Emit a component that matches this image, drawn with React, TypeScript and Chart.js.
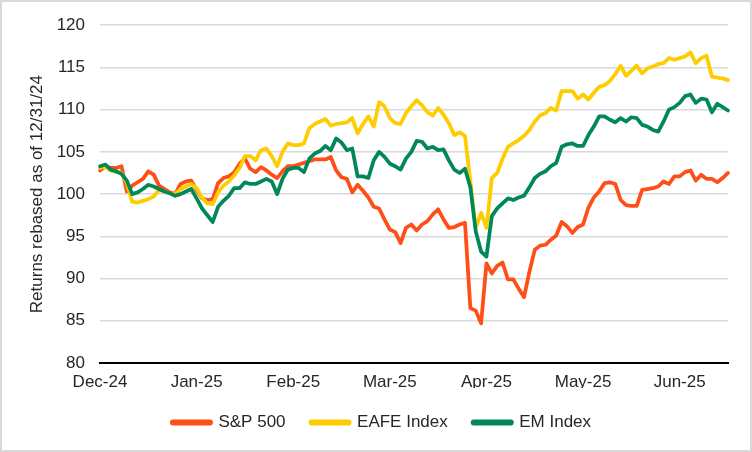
import { useEffect, useRef } from 'react';
import { Chart, registerables } from 'chart.js';

Chart.register(...registerables);

const monthTicks = ['Dec-24', 'Jan-25', 'Feb-25', 'Mar-25', 'Apr-25', 'May-25', 'Jun-25'];
const tickEvery = 18;

const sp500 = [
  102.8, 103.3, 103.1, 103.1, 103.3, 100.3, 101.0, 101.4, 101.8, 102.7,
  102.3, 101.0, 100.6, 100.2, 100.0, 101.2, 101.5, 101.6, 100.5, 99.5,
  99.3, 99.4, 101.3, 101.9, 102.1, 102.6, 103.6, 104.2, 103.0, 102.6,
  103.2, 102.8, 102.3, 101.9, 102.7, 103.3, 103.3, 103.5, 103.7, 103.9,
  104.1, 104.1, 104.1, 104.4, 102.8, 102.0, 101.8, 100.2, 101.1, 100.4,
  99.6, 98.5, 98.3, 97.0, 95.8, 95.5, 94.2, 96.0, 96.4, 95.7,
  96.4, 96.8, 97.6, 98.2, 97.0, 96.0, 96.1, 96.4, 96.6, 86.5,
  86.2, 84.7, 91.8, 90.6, 91.5, 91.9, 89.9, 89.9, 88.8, 87.8,
  90.8, 93.4, 93.9, 94.0, 94.6, 95.1, 96.7, 96.2, 95.4, 96.1,
  96.4, 98.4, 99.6, 100.3, 101.3, 101.4, 101.2, 99.3, 98.7, 98.6,
  98.6, 100.5, 100.6, 100.7, 100.9, 101.5, 101.2, 102.1, 102.1, 102.6,
  102.8, 101.6, 102.3, 101.8, 101.8, 101.4, 101.9, 102.5,
];

const eafe = [
  103.1, 103.2, 102.8, 102.6, 102.5, 101.3, 99.1, 99.0, 99.2, 99.4,
  99.7, 100.5, 100.3, 100.1, 100.0, 100.6, 100.9, 101.2, 100.7, 99.6,
  98.9, 98.8, 100.2, 101.0, 101.5, 102.2, 103.1, 104.5, 104.5, 104.0,
  105.2, 105.4, 104.5, 103.3, 105.0, 106.0, 105.8, 105.8, 106.0, 107.8,
  108.3, 108.6, 108.9, 108.1, 108.3, 108.4, 108.5, 109.0, 107.2, 108.3,
  109.2, 108.0, 110.9, 110.4, 109.0, 108.4, 108.3, 109.6, 110.4, 111.1,
  110.5, 109.7, 109.3, 110.2, 109.4, 108.4, 107.0, 107.3, 106.9, 101.5,
  96.0, 97.8, 96.0, 101.9, 102.5, 104.2, 105.6, 106.0, 106.4, 106.9,
  107.6, 108.6, 109.3, 109.6, 110.2, 109.9, 112.2, 112.2, 112.2, 111.3,
  111.8, 111.2, 112.0, 112.7, 112.9, 113.4, 114.2, 115.2, 114.0, 114.6,
  115.2, 114.3, 114.9, 115.1, 115.4, 115.5, 116.1, 115.9, 116.1, 116.3,
  116.8, 115.5, 116.1, 116.4, 113.9, 113.8, 113.7, 113.5,
];

const em = [
  103.3, 103.5, 102.9, 102.7, 102.4, 101.6, 100.0, 100.2, 100.6, 101.1,
  100.9, 100.6, 100.3, 100.1, 99.8, 100.0, 100.3, 100.6, 99.5, 98.3,
  97.5, 96.7, 98.5, 99.2, 99.8, 100.7, 100.7, 101.4, 101.2, 101.2,
  101.5, 101.8, 101.5, 100.0, 101.8, 102.9, 103.1, 103.1, 102.6, 104.2,
  104.8, 105.1, 105.7, 105.2, 106.6, 106.1, 105.2, 105.4, 102.1, 102.1,
  101.9, 104.0, 105.0, 104.4, 103.6, 103.3, 102.9, 104.2, 105.0, 106.3,
  106.2, 105.4, 105.6, 105.2, 105.3, 104.0, 102.9, 102.5, 103.0, 100.8,
  95.6, 93.2, 92.6, 97.4, 98.3, 98.9, 99.5, 99.3, 99.6, 99.8,
  100.8, 101.9, 102.4, 102.7, 103.3, 103.7, 105.6, 105.9, 106.0, 105.7,
  105.7, 107.0, 108.0, 109.2, 109.2, 108.8, 108.5, 109.0, 108.6, 109.1,
  109.0, 108.2, 108.0, 107.6, 107.4, 108.6, 110.0, 110.3, 110.8, 111.6,
  111.8, 110.8, 111.3, 111.2, 109.7, 110.7, 110.3, 109.9,
];

const seriesNames = ['S&P 500', 'EAFE Index', 'EM Index'];
const seriesColors = ['#FF4E17', '#FFCC00', '#00875A'];
const yMin = 80;
const yMax = 120;
const yStep = 5;
const yTitle = 'Returns rebased as of 12/31/24';

export default function App() {
  const ref = useRef<HTMLCanvasElement>(null);

  useEffect(() => {
    if (!ref.current) return;
    const labels = sp500.map((_, i) =>
      i % tickEvery === 0 ? monthTicks[i / tickEvery] ?? '' : ''
    );
    const font = { family: "'Liberation Sans', Arial, sans-serif", size: 17 };
    const textColor = '#262626';
    const values = [sp500, eafe, em];
    const chart = new Chart(ref.current, {
      type: 'line',
      data: {
        labels,
        datasets: values.map((d, i) => ({
          label: seriesNames[i],
          data: d,
          borderColor: seriesColors[i],
          backgroundColor: seriesColors[i],
          order: 2 - i,
        })),
      },
      options: {
        animation: false,
        responsive: true,
        maintainAspectRatio: false,
        layout: { padding: { left: 36, right: 24, top: 24, bottom: 11 } },
        elements: {
          line: { borderWidth: 3.75, tension: 0, borderJoinStyle: 'round', borderCapStyle: 'round' },
          point: { radius: 0, hoverRadius: 0 },
        },
        scales: {
          x: {
            type: 'category',
            grid: { display: false, drawTicks: false },
            border: { display: true, color: '#000000', width: 2 },
            ticks: {
              autoSkip: false,
              maxRotation: 0,
              minRotation: 0,
              padding: 9,
              color: textColor,
              font,
            },
            afterFit: (s: any) => {
              s.height = 25;
            },
          },
          y: {
            min: yMin,
            max: yMax,
            ticks: { stepSize: yStep, padding: 15, color: textColor, font },
            grid: {
              color: (ctx: any) => (ctx.tick && ctx.tick.value === yMin ? 'rgba(0,0,0,0)' : '#d9d9d9'),
              lineWidth: 1.5,
              drawTicks: false,
            },
            border: { display: false },
            title: {
              display: true,
              text: yTitle,
              color: textColor,
              font,
              padding: { top: -9, bottom: 0 },
            },
            afterFit: (s: any) => {
              s.width = 64;
            },
          },
        },
        plugins: {
          legend: {
            position: 'bottom',
            labels: {
              usePointStyle: true,
              pointStyle: 'line',
              pointStyleWidth: 37,
              padding: 26,
              color: textColor,
              font,
              sort: (a: any, b: any) => a.datasetIndex - b.datasetIndex,
              generateLabels: (c: any) =>
                (Chart.defaults.plugins.legend.labels as any)
                  .generateLabels(c)
                  .map((l: any) => ({ ...l, lineWidth: 6, lineCap: 'round' })),
            },
          },
          tooltip: { enabled: false },
        },
      } as any,
    });
    return () => chart.destroy();
  }, []);

  return (
    <div
      style={{
        position: 'fixed',
        left: 0,
        top: 0,
        width: 752,
        height: 452,
        background: '#ffffff',
      }}
    >
      <canvas ref={ref} />
      <div
        style={{
          position: 'absolute',
          inset: 0,
          border: '2px solid #d9d9d9',
          pointerEvents: 'none',
        }}
      />
    </div>
  );
}
